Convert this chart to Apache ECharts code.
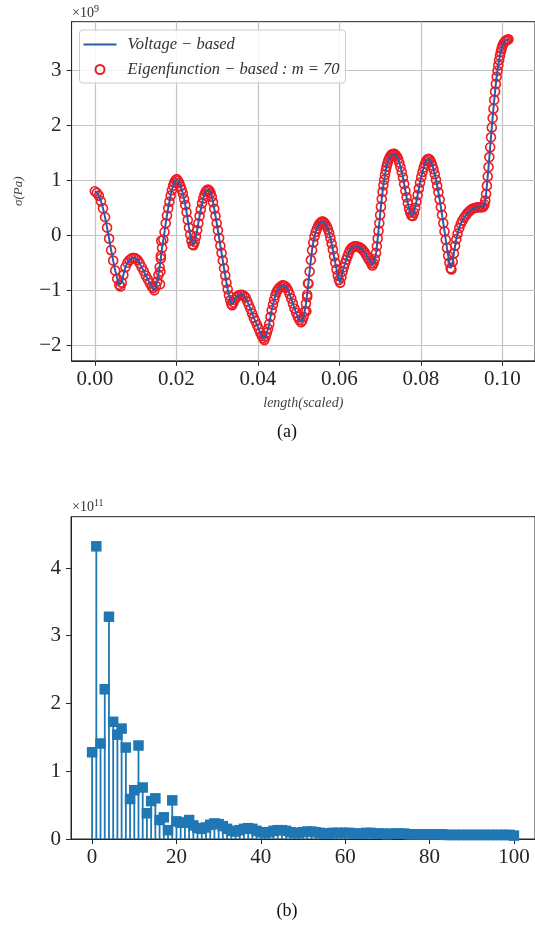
<!DOCTYPE html>
<html><head><meta charset="utf-8">
<script src="https://cdn.jsdelivr.net/npm/echarts@6/dist/echarts.min.js"></script>
<style>html,body{margin:0;padding:0;background:#fff}#c{width:535px;height:927px}</style>
</head><body><div id="c"></div>
<script>
// ---- Panel (a): stress along the length (values in units of 1e9 Pa) ----
const lengthScaled = [
0.0000,0.0005,0.0010,0.0015,0.0020,0.0025,0.0030,0.0035,0.0040,0.0045,
0.0050,0.0055,0.0060,0.0063,0.0066,0.0070,0.0075,0.0080,0.0085,0.0090,
0.0095,0.0100,0.0105,0.0110,0.0115,0.0120,0.0125,0.0130,0.0135,0.0140,
0.0143,0.0146,0.0150,0.0153,0.0156,0.0159,0.0162,0.0165,0.0168,0.0171,
0.0174,0.0177,0.0180,0.0183,0.0186,0.0189,0.0192,0.0195,0.0198,0.0201,
0.0204,0.0207,0.0210,0.0213,0.0216,0.0219,0.0222,0.0225,0.0228,0.0231,
0.0234,0.0237,0.0240,0.0242,0.0245,0.0248,0.0251,0.0254,0.0257,0.0260,
0.0263,0.0266,0.0269,0.0272,0.0275,0.0278,0.0281,0.0284,0.0287,0.0290,
0.0293,0.0296,0.0299,0.0302,0.0305,0.0308,0.0311,0.0314,0.0317,0.0320,
0.0323,0.0326,0.0329,0.0332,0.0335,0.0337,0.0340,0.0343,0.0347,0.0351,
0.0356,0.0361,0.0366,0.0370,0.0374,0.0378,0.0382,0.0386,0.0390,0.0394,
0.0398,0.0402,0.0406,0.0410,0.0413,0.0416,0.0419,0.0422,0.0425,0.0428,
0.0431,0.0434,0.0437,0.0440,0.0443,0.0446,0.0449,0.0452,0.0456,0.0460,
0.0463,0.0466,0.0470,0.0474,0.0478,0.0482,0.0486,0.0490,0.0494,0.0498,
0.0502,0.0506,0.0509,0.0512,0.0515,0.0518,0.0521,0.0524,0.0527,0.0530,
0.0533,0.0536,0.0539,0.0542,0.0545,0.0548,0.0551,0.0554,0.0557,0.0560,
0.0563,0.0566,0.0569,0.0572,0.0575,0.0578,0.0581,0.0584,0.0587,0.0590,
0.0593,0.0596,0.0599,0.0602,0.0605,0.0608,0.0611,0.0614,0.0617,0.0620,
0.0623,0.0626,0.0630,0.0634,0.0638,0.0642,0.0646,0.0650,0.0654,0.0658,
0.0662,0.0666,0.0670,0.0674,0.0678,0.0681,0.0684,0.0687,0.0690,0.0692,
0.0694,0.0696,0.0698,0.0700,0.0702,0.0704,0.0706,0.0708,0.0710,0.0712,
0.0714,0.0716,0.0718,0.0720,0.0723,0.0726,0.0729,0.0732,0.0735,0.0738,
0.0741,0.0744,0.0747,0.0750,0.0753,0.0756,0.0759,0.0762,0.0765,0.0768,
0.0771,0.0774,0.0777,0.0780,0.0783,0.0786,0.0789,0.0792,0.0795,0.0798,
0.0801,0.0804,0.0807,0.0810,0.0813,0.0816,0.0819,0.0822,0.0825,0.0828,
0.0831,0.0834,0.0837,0.0840,0.0843,0.0846,0.0849,0.0852,0.0855,0.0858,
0.0861,0.0864,0.0867,0.0870,0.0873,0.0875,0.0878,0.0881,0.0884,0.0887,
0.0890,0.0894,0.0898,0.0902,0.0906,0.0910,0.0914,0.0918,0.0922,0.0926,
0.0930,0.0934,0.0938,0.0942,0.0946,0.0950,0.0953,0.0956,0.0958,0.0960,
0.0962,0.0964,0.0966,0.0968,0.0970,0.0972,0.0974,0.0976,0.0978,0.0980,
0.0982,0.0984,0.0986,0.0988,0.0990,0.0992,0.0994,0.0996,0.0998,0.1000,
0.1003,0.1006,0.1009,0.1012,0.1015
];
const sigmaVoltage = [
0.80,0.77,0.72,0.62,0.49,0.33,0.14,-0.06,-0.27,-0.46,
-0.64,-0.79,-0.90,-0.93,-0.86,-0.72,-0.58,-0.50,-0.45,-0.42,
-0.41,-0.42,-0.45,-0.51,-0.58,-0.65,-0.73,-0.80,-0.87,-0.93,
-0.96,-1.00,-0.92,-0.84,-0.72,-0.58,-0.42,-0.23,-0.08,0.06,
0.22,0.36,0.49,0.61,0.72,0.82,0.90,0.96,1.00,1.02,
0.99,0.95,0.89,0.83,0.76,0.66,0.55,0.42,0.28,0.14,
0.01,-0.10,-0.17,-0.18,-0.12,-0.02,0.09,0.22,0.35,0.47,
0.58,0.67,0.74,0.79,0.82,0.83,0.81,0.77,0.70,0.60,
0.48,0.35,0.22,0.09,-0.05,-0.19,-0.32,-0.46,-0.60,-0.73,
-0.86,-0.98,-1.09,-1.18,-1.25,-1.27,-1.22,-1.17,-1.13,-1.10,
-1.08,-1.08,-1.10,-1.13,-1.20,-1.27,-1.34,-1.42,-1.50,-1.56,
-1.63,-1.70,-1.77,-1.83,-1.87,-1.90,-1.84,-1.77,-1.70,-1.61,
-1.48,-1.36,-1.26,-1.17,-1.09,-1.03,-0.99,-0.96,-0.93,-0.91,
-0.91,-0.92,-0.95,-1.00,-1.07,-1.15,-1.24,-1.33,-1.41,-1.48,
-1.54,-1.58,-1.55,-1.48,-1.38,-1.24,-1.08,-0.88,-0.66,-0.45,
-0.27,-0.13,-0.02,0.06,0.12,0.17,0.21,0.23,0.25,0.25,
0.23,0.20,0.16,0.11,0.04,-0.05,-0.15,-0.26,-0.38,-0.50,
-0.62,-0.73,-0.81,-0.86,-0.76,-0.66,-0.58,-0.51,-0.44,-0.38,
-0.32,-0.27,-0.23,-0.21,-0.20,-0.20,-0.21,-0.22,-0.24,-0.27,
-0.31,-0.36,-0.41,-0.46,-0.51,-0.55,-0.51,-0.43,-0.32,-0.20,
-0.06,0.08,0.22,0.37,0.52,0.66,0.79,0.91,1.01,1.10,
1.18,1.25,1.31,1.36,1.41,1.45,1.47,1.48,1.48,1.46,
1.43,1.39,1.32,1.24,1.15,1.05,0.93,0.81,0.69,0.58,
0.48,0.41,0.36,0.35,0.41,0.50,0.61,0.73,0.85,0.96,
1.06,1.15,1.23,1.30,1.35,1.38,1.39,1.37,1.33,1.27,
1.20,1.11,1.01,0.90,0.78,0.65,0.51,0.37,0.22,0.07,
-0.08,-0.23,-0.37,-0.50,-0.60,-0.62,-0.48,-0.33,-0.19,-0.07,
0.03,0.13,0.21,0.27,0.32,0.36,0.40,0.43,0.46,0.48,
0.49,0.50,0.51,0.51,0.51,0.51,0.52,0.56,0.63,0.75,
0.90,1.07,1.24,1.42,1.60,1.78,1.96,2.13,2.30,2.46,
2.61,2.75,2.88,2.99,3.09,3.18,3.26,3.33,3.39,3.44,
3.49,3.52,3.54,3.55,3.56
];
// eigenfunction circles that sit off the voltage curve at the two jumps
const eigenExtraLength = [0.0160,0.0161,0.0162,0.0163,0.0519,0.0521,0.0523];
const eigenExtraSigma  = [-0.89,-0.66,-0.37,-0.10,-1.38,-1.12,-0.87];

const topXTicks = [0, 0.02, 0.04, 0.06, 0.08, 0.10];
const topYTicks = [-2, -1, 0, 1, 2, 3];

// ---- Panel (b): modal amplitudes (units of 1e11) ----
const modeIndex = [
0,1,2,3,4,5,6,7,8,9,10,11,12,13,14,15,16,17,18,19,
20,21,22,23,24,25,26,27,28,29,30,31,32,33,34,35,36,37,38,39,
40,41,42,43,44,45,46,47,48,49,50,51,52,53,54,55,56,57,58,59,
60,61,62,63,64,65,66,67,68,69,70,71,72,73,74,75,76,77,78,79,
80,81,82,83,84,85,86,87,88,89,90,91,92,93,94,95,96,97,98,99,100
];
const modeAmp = [
1.28,4.32,1.41,2.21,3.28,1.73,1.54,1.63,1.35,0.59,
0.72,1.38,0.76,0.38,0.56,0.60,0.28,0.32,0.13,0.57,
0.26,0.24,0.24,0.28,0.20,0.16,0.15,0.17,0.21,0.23,
0.22,0.19,0.15,0.12,0.11,0.13,0.15,0.16,0.15,0.12,
0.10,0.09,0.10,0.12,0.13,0.13,0.12,0.10,0.09,0.09,
0.10,0.11,0.11,0.10,0.09,0.08,0.08,0.09,0.09,0.09,
0.09,0.09,0.08,0.08,0.08,0.09,0.09,0.08,0.08,0.08,
0.07,0.08,0.08,0.08,0.08,0.07,0.07,0.07,0.07,0.07,
0.07,0.07,0.07,0.07,0.06,0.06,0.06,0.06,0.06,0.06,
0.06,0.06,0.06,0.06,0.06,0.06,0.06,0.06,0.06,0.06,0.05
];
const botXTicks = [0, 20, 40, 60, 80, 100];
const botYTicks = [0, 1, 2, 3, 4];

// ---------------------------------------------------------------
const voltagePts = lengthScaled.map((x, i) => [x, sigmaVoltage[i]]);
const eigenPts = voltagePts.concat(eigenExtraLength.map((x, i) => [x, eigenExtraSigma[i]]));
const stemPts = modeIndex.map((n, i) => [n, modeAmp[i]]);

const SERIF = 'Liberation Serif';
const AX = '#262626';
const minus = v => String(v).replace('-', '\u2212');

const tickLabel = {fontFamily: SERIF, fontSize: 21, color: AX};

const chart = echarts.init(document.getElementById('c'), null, {renderer: 'canvas'});
chart.setOption({
  animation: false,
  backgroundColor: '#fff',
  grid: [
    {left: 71.6, top: 21.7, width: 466.2, height: 339.1, show: true, borderColor: AX, borderWidth: 1, backgroundColor: 'transparent'},
    {left: 71, top: 516.7, width: 469.6, height: 322.3, show: true, borderColor: AX, borderWidth: 1, backgroundColor: 'transparent'}
  ],
  xAxis: [
    {gridIndex: 0, type: 'value', min: -0.0057, max: 0.108,
     name: 'length(scaled)', nameLocation: 'middle', nameGap: 36,
     nameTextStyle: {fontFamily: SERIF, fontStyle: 'italic', fontSize: 14, color: '#444'},
     axisLine: {show: true, onZero: false, lineStyle: {color: AX, width: 1}},
     axisTick: {show: true, inside: false, length: 5, customValues: topXTicks, lineStyle: {color: AX}},
     axisLabel: {customValues: topXTicks, margin: 8, formatter: v => v.toFixed(2), ...tickLabel},
     splitLine: {show: true, lineStyle: {color: '#c4c4c4', width: 1.2}}},
    {gridIndex: 1, type: 'value', min: -5, max: 105,
     axisLine: {show: true, onZero: false, lineStyle: {color: AX, width: 1}},
     axisTick: {show: true, inside: false, length: 5, customValues: botXTicks, lineStyle: {color: AX}},
     axisLabel: {customValues: botXTicks, margin: 8, ...tickLabel},
     splitLine: {show: false}}
  ],
  yAxis: [
    {gridIndex: 0, type: 'value', min: -2.28, max: 3.88,
     name: 'σ(Pa)', nameLocation: 'middle', nameGap: 47, nameRotate: 90,
     nameTextStyle: {fontFamily: SERIF, fontStyle: 'italic', fontSize: 13, color: '#444'},
     axisLine: {show: true, onZero: false, lineStyle: {color: AX, width: 1}},
     axisTick: {show: true, inside: false, length: 5, customValues: topYTicks, lineStyle: {color: AX}},
     axisLabel: {customValues: topYTicks, margin: 10, formatter: minus, ...tickLabel},
     splitLine: {show: true, lineStyle: {color: '#c4c4c4', width: 1.2}}},
    {gridIndex: 1, type: 'value', min: 0, max: 4.757,
     axisLine: {show: true, onZero: false, lineStyle: {color: AX, width: 1}},
     axisTick: {show: true, inside: false, length: 5, customValues: botYTicks, lineStyle: {color: AX}},
     axisLabel: {customValues: botYTicks, margin: 10, ...tickLabel},
     splitLine: {show: false}}
  ],
  legend: {
    left: 79.5, top: 30, orient: 'vertical',
    itemWidth: 33, itemHeight: 9, itemGap: 8,
    padding: [6, 6, 5, 4],
    backgroundColor: 'rgba(255,255,255,0.85)', borderColor: '#cccccc', borderWidth: 1, borderRadius: 3,
    textStyle: {fontFamily: SERIF, fontStyle: 'italic', fontSize: 16.5, color: '#333', lineHeight: 14, padding: [0, 0, 0, 6]},
    data: [
      {name: 'Voltage − based', icon: 'path://M0,0L33,0L33,2.2L0,2.2Z', itemStyle: {color: '#2b5ba9', borderWidth: 0}},
      {name: 'Eigenfunction − based : m = 70', icon: 'circle'}
    ]
  },
  series: [
    {name: 'Eigenfunction − based : m = 70', type: 'scatter', xAxisIndex: 0, yAxisIndex: 0,
     data: eigenPts, symbol: 'circle', symbolSize: 9, z: 2,
     itemStyle: {color: 'rgba(0,0,0,0)', borderColor: '#ec1c24', borderWidth: 1.6, opacity: 1}},
    {name: 'Voltage − based', type: 'line', xAxisIndex: 0, yAxisIndex: 0,
     data: voltagePts, symbol: 'none', showSymbol: false, z: 3,
     lineStyle: {color: '#2b5ba9', width: 2}, itemStyle: {color: '#2b5ba9'}},
    {type: 'custom', xAxisIndex: 1, yAxisIndex: 1, data: stemPts, z: 2,
     renderItem: (params, api) => {
       const p0 = api.coord([api.value(0), 0]);
       const p1 = api.coord([api.value(0), api.value(1)]);
       return {type: 'line', shape: {x1: p0[0], y1: p0[1], x2: p1[0], y2: p1[1]},
               style: {stroke: '#1f77b4', lineWidth: 1.8}};
     }},
    {type: 'scatter', xAxisIndex: 1, yAxisIndex: 1, data: stemPts, symbol: 'rect', symbolSize: 10.5, z: 3,
     itemStyle: {color: '#1f77b4', opacity: 1}}
  ],
  graphic: [
    {type: 'text', left: 72, top: 4, style: {text: '{a|×10}{b|9}', rich: {
      a: {fontFamily: SERIF, fontSize: 14, fill: '#333', verticalAlign: 'bottom'},
      b: {fontFamily: SERIF, fontSize: 10, fill: '#333', verticalAlign: 'top', padding: [0, 0, 6, 0]}}}},
    {type: 'text', left: 72, top: 498, style: {text: '{a|×10}{b|11}', rich: {
      a: {fontFamily: SERIF, fontSize: 14, fill: '#333', verticalAlign: 'bottom'},
      b: {fontFamily: SERIF, fontSize: 10, fill: '#333', verticalAlign: 'top', padding: [0, 0, 6, 0]}}}},
    {type: 'text', x: 287, y: 432, style: {text: '(a)', fontFamily: SERIF, fontSize: 18, fill: '#111', align: 'center', verticalAlign: 'middle'}},
    {type: 'text', x: 287, y: 911, style: {text: '(b)', fontFamily: SERIF, fontSize: 18, fill: '#111', align: 'center', verticalAlign: 'middle'}}
  ]
});
</script>
</body></html>
